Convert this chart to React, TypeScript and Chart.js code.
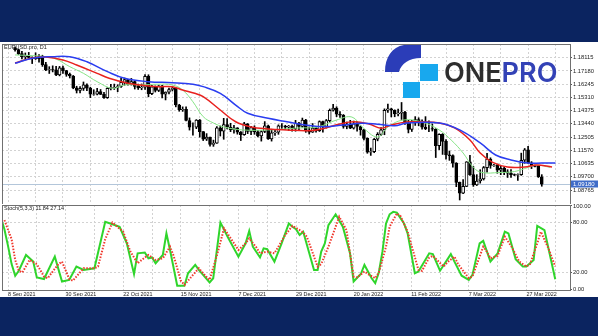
import { useEffect, useRef } from 'react';
import { Chart, registerables } from 'chart.js';

Chart.register(...registerables);

// ---- Candles (EURUSD.pro, D1) ----
const openP = [1.1880,1.1869,1.1840,1.1818,1.1825,1.1813,1.1808,1.1805,1.1820,1.1763,1.1726,1.1727,1.1725,1.1690,1.1740,1.1720,1.1694,1.1682,1.1598,1.1580,1.1595,1.1620,1.1597,1.1553,1.1554,1.1572,1.1552,1.1529,1.1595,1.1600,1.1602,1.1608,1.1637,1.1656,1.1623,1.1643,1.1609,1.1598,1.1603,1.1680,1.1558,1.1606,1.1580,1.1612,1.1554,1.1568,1.1587,1.1595,1.1477,1.1445,1.1446,1.1368,1.1320,1.1320,1.1370,1.1289,1.1236,1.1250,1.1198,1.1208,1.1316,1.1293,1.1338,1.1320,1.1302,1.1316,1.1286,1.1268,1.1344,1.1290,1.1318,1.1287,1.1258,1.1290,1.1330,1.1238,1.1280,1.1285,1.1330,1.1328,1.1320,1.1328,1.1310,1.1350,1.1325,1.1370,1.1295,1.1285,1.1314,1.1296,1.1360,1.1325,1.1367,1.1440,1.1455,1.1412,1.1405,1.1325,1.1343,1.1313,1.1345,1.1325,1.1302,1.1241,1.1144,1.1148,1.1235,1.1270,1.1302,1.1440,1.1450,1.1440,1.1415,1.1420,1.1425,1.1350,1.1305,1.1358,1.1375,1.1360,1.1320,1.1310,1.1310,1.1307,1.1190,1.1270,1.1220,1.1125,1.1120,1.1066,1.0930,1.0855,1.0902,1.1075,1.0985,1.0912,1.0940,1.0955,1.1035,1.1095,1.1050,1.1052,1.1016,1.1030,1.1005,1.0995,1.0985,1.0982,1.0985,1.1087,1.1160,1.1068,1.1046,1.1044,1.0970];
const highP = [1.1887,1.1872,1.1857,1.1845,1.1849,1.1818,1.1846,1.1833,1.1829,1.1778,1.1748,1.1754,1.1751,1.1750,1.1753,1.1722,1.1703,1.1686,1.1610,1.1608,1.1640,1.1626,1.1603,1.1585,1.1595,1.1587,1.1567,1.1600,1.1624,1.1625,1.1620,1.1668,1.1668,1.1658,1.1665,1.1648,1.1625,1.1626,1.1692,1.1691,1.1616,1.1612,1.1615,1.1617,1.1570,1.1596,1.1609,1.1599,1.1482,1.1464,1.1465,1.1386,1.1351,1.1374,1.1375,1.1290,1.1275,1.1251,1.1229,1.1325,1.1329,1.1383,1.1382,1.1348,1.1333,1.1317,1.1290,1.1355,1.1346,1.1326,1.1330,1.1298,1.1295,1.1360,1.1335,1.1306,1.1302,1.1337,1.1346,1.1334,1.1333,1.1336,1.1369,1.1355,1.1385,1.1376,1.1322,1.1346,1.1317,1.1365,1.1363,1.1375,1.1449,1.1482,1.1465,1.1430,1.1410,1.1357,1.1369,1.1364,1.1360,1.1330,1.1306,1.1245,1.1173,1.1241,1.1282,1.1318,1.1450,1.1483,1.1455,1.1443,1.1448,1.1495,1.1432,1.1369,1.1369,1.1395,1.1387,1.1373,1.1395,1.1365,1.1344,1.1310,1.1274,1.1275,1.1233,1.1152,1.1125,1.1070,1.0933,1.0950,1.1077,1.1121,1.1043,1.0985,1.1020,1.1043,1.1136,1.1104,1.1058,1.1060,1.1045,1.1040,1.1020,1.1020,1.0990,1.0990,1.1137,1.1170,1.1185,1.1077,1.1052,1.1050,1.0985];
const lowP = [1.1857,1.1834,1.1802,1.1801,1.1810,1.1770,1.1799,1.1780,1.1750,1.1719,1.1700,1.1711,1.1684,1.1683,1.1700,1.1680,1.1668,1.1592,1.1562,1.1563,1.1580,1.1578,1.1529,1.1546,1.1549,1.1551,1.1524,1.1524,1.1584,1.1587,1.1571,1.1602,1.1617,1.1618,1.1618,1.1590,1.1587,1.1585,1.1588,1.1535,1.1550,1.1569,1.1572,1.1527,1.1513,1.1555,1.1576,1.1464,1.1433,1.1432,1.1365,1.1300,1.1264,1.1310,1.1250,1.1226,1.1226,1.1186,1.1185,1.1205,1.1258,1.1235,1.1308,1.1289,1.1279,1.1271,1.1226,1.1263,1.1275,1.1268,1.1270,1.1252,1.1222,1.1282,1.1234,1.1222,1.1262,1.1270,1.1311,1.1305,1.1297,1.1293,1.1292,1.1300,1.1320,1.1284,1.1272,1.1283,1.1285,1.1290,1.1285,1.1314,1.1356,1.1434,1.1395,1.1390,1.1313,1.1309,1.1310,1.1307,1.1293,1.1264,1.1230,1.1136,1.1121,1.1140,1.1224,1.1262,1.1267,1.1424,1.1393,1.1394,1.1400,1.1375,1.1340,1.1280,1.1290,1.1333,1.1330,1.1307,1.1303,1.1289,1.1293,1.1106,1.1162,1.1128,1.1095,1.1086,1.1038,1.0900,1.0806,1.0850,1.0900,1.0980,1.0902,1.0908,1.0925,1.0947,1.1002,1.1030,1.1044,1.0995,1.0985,1.0985,1.0965,1.0965,1.0978,1.0945,1.0980,1.1065,1.1065,1.1028,1.1040,1.0965,1.0903];
const closeP = [1.1869,1.1840,1.1818,1.1825,1.1813,1.1808,1.1805,1.1820,1.1763,1.1726,1.1727,1.1725,1.1690,1.1740,1.1720,1.1694,1.1682,1.1598,1.1580,1.1595,1.1620,1.1597,1.1553,1.1554,1.1572,1.1552,1.1529,1.1595,1.1600,1.1602,1.1608,1.1637,1.1656,1.1623,1.1643,1.1609,1.1598,1.1603,1.1680,1.1558,1.1606,1.1580,1.1612,1.1554,1.1568,1.1587,1.1595,1.1477,1.1445,1.1446,1.1368,1.1320,1.1320,1.1370,1.1289,1.1236,1.1250,1.1198,1.1208,1.1316,1.1293,1.1338,1.1320,1.1302,1.1316,1.1286,1.1268,1.1344,1.1290,1.1318,1.1287,1.1258,1.1290,1.1330,1.1238,1.1280,1.1285,1.1330,1.1328,1.1320,1.1328,1.1310,1.1350,1.1325,1.1370,1.1295,1.1285,1.1314,1.1296,1.1360,1.1325,1.1367,1.1440,1.1455,1.1412,1.1405,1.1325,1.1343,1.1313,1.1345,1.1325,1.1302,1.1241,1.1144,1.1148,1.1235,1.1270,1.1302,1.1440,1.1450,1.1440,1.1415,1.1420,1.1425,1.1350,1.1305,1.1358,1.1375,1.1360,1.1320,1.1310,1.1310,1.1307,1.1190,1.1270,1.1220,1.1125,1.1120,1.1066,1.0930,1.0855,1.0902,1.1075,1.0985,1.0912,1.0940,1.0955,1.1035,1.1095,1.1050,1.1052,1.1016,1.1030,1.1005,1.0995,1.0985,1.0982,1.0985,1.1087,1.1160,1.1068,1.1046,1.1044,1.0970,1.0918];

// ---- Alligator lines (bar index, price) ----
const jawIdx = [0,5,11,16,21,27,32,39,46,52,55,60,64.5,68,74,79.5,85,90.5,96,101.5,106,111,114.5,124,130,136,140.5,145,150,154,158];
const jawVal = [1.1772,1.1807,1.1819,1.1819,1.1783,1.1713,1.1666,1.1642,1.1635,1.1624,1.1607,1.1560,1.1477,1.1419,1.1383,1.1359,1.1336,1.1324,1.1336,1.1348,1.1341,1.1330,1.1350,1.1350,1.1301,1.1209,1.1124,1.1089,1.1067,1.1067,1.1067];
const teethIdx = [0,5,9,14,18,24,27.5,33,36.5,42,46,49,52.5,55,60,64.5,69,74,79.5,86,90.5,95,99,103.5,107,110,114.5,119,124,128.5,133,136,139.5,144,149,152.5,157];
const teethVal = [1.1774,1.1809,1.1816,1.1795,1.1760,1.1701,1.1666,1.1631,1.1619,1.1607,1.1607,1.1583,1.1560,1.1536,1.1442,1.1359,1.1322,1.1308,1.1301,1.1296,1.1313,1.1343,1.1359,1.1343,1.1313,1.1336,1.1357,1.1357,1.1350,1.1315,1.1230,1.1138,1.1074,1.1039,1.1039,1.1053,1.1039];
const lipsIdx = [0,5,9,12,16,20,24,28.5,32,37,41.5,46,49,52,55,58,61,66.5,74,83,88.5,94,98.5,101.5,106,109,113.5,119,124,127.5,131,134,136.5,141.5,146,150,152.5,156.5];
const lipsVal = [1.1831,1.1826,1.1819,1.1802,1.1748,1.1701,1.1642,1.1595,1.1619,1.1619,1.1624,1.1619,1.1583,1.1500,1.1395,1.1350,1.1322,1.1301,1.1301,1.1315,1.1322,1.1371,1.1392,1.1322,1.1251,1.1322,1.1371,1.1357,1.1301,1.1230,1.1138,1.1036,1.1000,1.1000,1.1007,1.1036,1.1053,1.1036];

// ---- Stochastic (5,3,3) ----
const kIdx = [0,1,2,3,4,5,7,9,10,12,15,17,19,21,23,26,29,31,33,35,37,38,40,41,42,43,45,46,47,49,51,52,54,55,58,59,61,63,66,68,69,70,72,73,74,76,78,80,81,82,83,84,87,88,89,90,91,93,95,97,98,100,101,103,104,105,106,107,108,109,110,112,113,115,116,119,120,122,125,126,128,130,131,133,134,136,138,140,141,143,145,146,148,149,151,154];
const kVal = [86,72,52,30,16,22,41,33,14,12,39,9,11,27,23,25,81,78,75,55,18,43,44,37,38,31,41,67,47,4,4,19,29,23,8,13,80,63,39,55,70,51,38,49,48,33,55,79,75,72,65,69,23,23,45,55,77,90,75,43,9,18,29,13,7,20,45,79,90,93,92,79,67,19,21,43,42,22,42,33,16,11,17,55,58,33,43,69,67,36,27,27,35,76,71,11.84];
const dIdx = [1,3,4,5,6,8,10,12,13,16,17,19,20,22,23,26,27,29,31,34,36,38,40,41,43,45,47,48,50,51,53,55,57,58,60,62,64,66,68,69,71,72,74,76,79,81,83,84,85,88,89,91,94,96,98,99,101,102,104,105,107,108,110,111,113,116,117,119,120,123,124,126,127,130,131,134,135,136,138,140,142,144,146,147,149,150,152,154];
const dVal = [83,60,35,22,20,35,30,15,13,30,33,12,10,20,25,25,27,60,80,69,45,31,38,41,35,37,51,40,10,5,15,25,15,11,40,73,60,47,55,61,50,43,45,43,65,76,71,68,63,27,30,51,87,71,15,14,21,18,13,20,51,75,91,88,69,23,22,38,40,27,32,39,30,13,15,51,45,37,40,63,50,33,27,30,55,69,50,27.14];

// ---- Axes ----
const priceTicks = [1.18115,1.1718,1.16245,1.1531,1.14375,1.1344,1.12505,1.1157,1.10635,1.097,1.08765];
const stochTicks = [0,20,80,100];
const xGridIdx = [2,10,18,26,34,42,50,58,66,74,82,90,98,106,114,122,130,138,146,154];
const xLabelIdx = [2,18,34,50,66,82,98,114,130,146];
const xLabelText = ['8 Sep 2021','30 Sep 2021','22 Oct 2021','15 Nov 2021','7 Dec 2021','29 Dec 2021','20 Jan 2022','11 Feb 2022','7 Mar 2022','27 Mar 2022'];

const X_MIN = 0.33;
const X_MAX = 158.1;
const Y_MIN = 1.07776;
const Y_MAX = 1.19083;
const FONT = "'Liberation Sans', Arial, sans-serif";
const GRID = '#d2d2d2';
const FRAME = '#707070';

export default function App() {
  const mainRef = useRef<HTMLCanvasElement>(null);
  const stochRef = useRef<HTMLCanvasElement>(null);

  useEffect(() => {
    const idx = closeP.map((_, i) => i);
    const lastClose = closeP[closeP.length - 1];

    const mainDeco = {
      id: 'mainDeco',
      beforeDatasetsDraw(chart: any) {
        const { ctx, chartArea } = chart;
        const y = Math.round(chart.scales.y.getPixelForValue(lastClose)) + 0.5;
        ctx.save();
        ctx.strokeStyle = '#b3c6da';
        ctx.lineWidth = 1;
        ctx.beginPath();
        ctx.moveTo(chartArea.left, y);
        ctx.lineTo(chartArea.right, y);
        ctx.stroke();
        ctx.restore();
      },
      afterDraw(chart: any) {
        const { ctx, chartArea } = chart;
        ctx.save();
        ctx.strokeStyle = FRAME;
        ctx.lineWidth = 1;
        ctx.strokeRect(chartArea.left + 0.5, chartArea.top + 0.5, chartArea.right - chartArea.left, chartArea.bottom - chartArea.top);
        ctx.fillStyle = '#222';
        ctx.font = `5.5px ${FONT}`;
        ctx.textBaseline = 'top';
        ctx.fillText('EURUSD.pro, D1', chartArea.left + 2, chartArea.top + 1);
        const y = Math.round(chart.scales.y.getPixelForValue(lastClose));
        ctx.fillStyle = '#3f6cc8';
        ctx.fillRect(chartArea.right + 1, y - 3.5, 27, 7);
        ctx.fillStyle = '#ffffff';
        ctx.font = `6px ${FONT}`;
        ctx.textBaseline = 'middle';
        ctx.fillText(lastClose.toFixed(5), chartArea.right + 3, y + 0.5);
        ctx.restore();
      },
    };

    const stochDeco = {
      id: 'stochDeco',
      afterDraw(chart: any) {
        const { ctx, chartArea } = chart;
        ctx.save();
        ctx.strokeStyle = FRAME;
        ctx.lineWidth = 1;
        ctx.strokeRect(chartArea.left + 0.5, chartArea.top + 0.5, chartArea.right - chartArea.left, chartArea.bottom - chartArea.top);
        ctx.fillStyle = '#222';
        ctx.font = `5.5px ${FONT}`;
        ctx.textBaseline = 'top';
        ctx.fillText(`Stoch(5,3,3) ${kVal[kVal.length - 1].toFixed(2)} ${dVal[dVal.length - 1].toFixed(2)}`, chartArea.left + 2, chartArea.top + 1);
        ctx.restore();
      },
    };

    const xScale = (showLabels: boolean) => ({
      type: 'linear',
      min: X_MIN,
      max: X_MAX,
      afterBuildTicks: (a: any) => { a.ticks = xGridIdx.map((v) => ({ value: v })); },
      ticks: {
        display: showLabels,
        autoSkip: false,
        maxRotation: 0,
        align: 'start',
        padding: 0,
        color: '#222',
        font: { family: FONT, size: 5.4 },
        callback: (v: any) => {
          const k = xLabelIdx.indexOf(Number(v));
          return k >= 0 ? xLabelText[k] : '';
        },
      },
      grid: { color: GRID, drawTicks: showLabels, tickLength: 1, tickColor: '#555' },
      border: { display: false, dash: [2, 2] },
      afterFit: (s: any) => {
        s.height = showLabels ? 6 : 0;
        s.paddingLeft = 0;
        s.paddingRight = 0;
      },
    });

    const yFit = (s: any) => {
      s.width = 28;
      s.paddingTop = 0;
      s.paddingBottom = 0;
    };

    const main = new Chart(mainRef.current as HTMLCanvasElement, {
      type: 'bar',
      data: {
        datasets: [
          {
            type: 'bar',
            data: idx.map((i) => ({ x: i, y: [lowP[i], highP[i]] })),
            backgroundColor: '#000000',
            barThickness: 1,
            grouped: false,
            order: 3,
          },
          {
            type: 'bar',
            data: idx.map((i) => ({ x: i, y: [openP[i], closeP[i]] })),
            backgroundColor: idx.map((i) => (closeP[i] >= openP[i] ? '#ffffff' : '#000000')),
            borderColor: '#000000',
            borderWidth: 1,
            borderSkipped: false,
            barThickness: 3,
            grouped: false,
            order: 2,
          },
          {
            type: 'line',
            data: jawIdx.map((x, i) => ({ x, y: jawVal[i] })),
            borderColor: '#2a3df0',
            borderWidth: 1.5,
            pointRadius: 0,
            tension: 0.4,
            order: 1,
          },
          {
            type: 'line',
            data: teethIdx.map((x, i) => ({ x, y: teethVal[i] })),
            borderColor: '#e8211e',
            borderWidth: 1.5,
            pointRadius: 0,
            tension: 0.4,
            order: 1,
          },
          {
            type: 'line',
            data: lipsIdx.map((x, i) => ({ x, y: lipsVal[i] })),
            borderColor: '#86e486',
            borderWidth: 1,
            pointRadius: 0,
            tension: 0.4,
            order: 1,
          },
        ],
      } as any,
      options: {
        responsive: false,
        animation: false,
        devicePixelRatio: 1,
        layout: { padding: { left: 2, top: 2, right: 0, bottom: 0 } },
        plugins: { legend: { display: false }, tooltip: { enabled: false } },
        scales: {
          x: xScale(false) as any,
          y: {
            position: 'right',
            min: Y_MIN,
            max: Y_MAX,
            afterBuildTicks: (a: any) => { a.ticks = priceTicks.map((v) => ({ value: v })); },
            ticks: {
              color: '#222',
              padding: 1,
              font: { family: FONT, size: 5.8 },
              callback: (v: any) => Number(v).toFixed(5),
            },
            grid: { color: GRID, tickLength: 2, tickColor: '#555' },
            border: { display: false, dash: [2, 2] },
            afterFit: yFit,
          } as any,
        },
      },
      plugins: [mainDeco],
    });

    const stoch = new Chart(stochRef.current as HTMLCanvasElement, {
      type: 'line',
      data: {
        datasets: [
          {
            data: dIdx.map((x, i) => ({ x, y: dVal[i] })),
            borderColor: '#f03a2e',
            borderWidth: 2,
            borderDash: [1.5, 1.5],
            pointRadius: 0,
            tension: 0,
          },
          {
            data: kIdx.map((x, i) => ({ x, y: kVal[i] })),
            borderColor: '#2fd52b',
            borderWidth: 2,
            pointRadius: 0,
            tension: 0,
          },
        ],
      },
      options: {
        responsive: false,
        animation: false,
        devicePixelRatio: 1,
        layout: { padding: { left: 2, top: 1, right: 0, bottom: 0 } },
        plugins: { legend: { display: false }, tooltip: { enabled: false } },
        scales: {
          x: xScale(true) as any,
          y: {
            position: 'right',
            min: -1.2,
            max: 101.2,
            afterBuildTicks: (a: any) => { a.ticks = stochTicks.map((v) => ({ value: v })); },
            ticks: {
              color: '#222',
              padding: 1,
              font: { family: FONT, size: 5.8 },
              callback: (v: any) => Number(v).toFixed(2),
            },
            grid: {
              color: (c: any) => (c.tick && (c.tick.value === 20 || c.tick.value === 80) ? GRID : 'rgba(0,0,0,0)'),
              tickLength: 2,
              tickColor: '#555',
            },
            border: { display: false, dash: [2, 2] },
            afterFit: yFit,
          } as any,
        },
      },
      plugins: [stochDeco],
    });

    return () => {
      main.destroy();
      stoch.destroy();
    };
  }, []);

  return (
    <div style={{ position: 'fixed', left: 0, top: 0, width: 598, height: 336, background: '#0b2460', overflow: 'hidden' }}>
      <div style={{ position: 'absolute', left: 0, top: 42, width: 598, height: 255, background: '#ffffff' }} />
      <canvas ref={mainRef} width={598} height={162} style={{ position: 'absolute', left: 0, top: 42, width: 598, height: 162 }} />
      <canvas ref={stochRef} width={598} height={92} style={{ position: 'absolute', left: 0, top: 204, width: 598, height: 92 }} />
      <svg width={598} height={336} style={{ position: 'absolute', left: 0, top: 0, pointerEvents: 'none' }}>
        <path d="M404,45 L421,45 L421,58 C409,58 401,64 399,72 L385,72 C385,57 392,47 404,45 Z" fill="#2b3db8" />
        <rect x={420} y={64} width={18} height={17} fill="#18a8ee" />
        <rect x={403} y={82} width={17} height={16} fill="#18a8ee" />
        <text x={444} y={82} fontFamily="Inter, 'Open Sans', sans-serif" fontWeight={600} fontSize={27}>
          <tspan fill="#2e2e2e">ONE</tspan>
          <tspan fill="#3342b6">PRO</tspan>
        </text>
      </svg>
    </div>
  );
}
